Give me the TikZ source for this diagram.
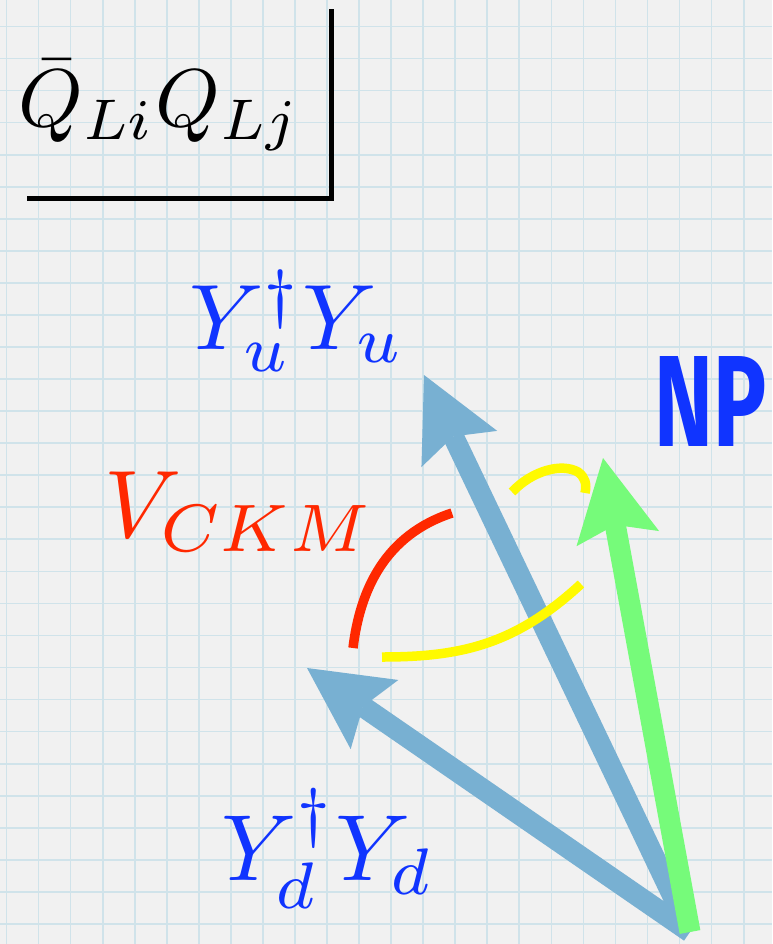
\documentclass[tikz,border=0pt]{standalone}
\usepackage{fontspec}
\usepackage{graphicx}
\newfontfamily\npfont{Fira Sans}
\usetikzlibrary{arrows.meta}
\definecolor{bg}{RGB}{241,241,241}
\definecolor{gridc}{RGB}{208,227,234}
\definecolor{vecblue}{RGB}{120,176,210}
\definecolor{npgreen}{RGB}{118,251,122}
\definecolor{ckmred}{RGB}{255,40,0}
\definecolor{yuk}{RGB}{255,250,0}
\definecolor{txtblue}{RGB}{16,52,255}
\begin{document}
\begin{tikzpicture}[x=1pt,y=-1pt,
  vec/.style={line width=21pt, line cap=butt,
    -{Stealth[length=82pt,width=84pt,inset=14pt,line width=0pt]}},
  arcline/.style={line width=9.5pt, line cap=butt},
  gridline/.style={gridc, line width=1.7pt},
  lbl/.style={inner sep=0pt, anchor=base west},
]
\useasboundingbox (0,0) rectangle (772,944);
\fill[bg] (0,0) rectangle (772,944);
\foreach \k in {0,...,23} \draw[gridline] ({6.5+32.05*\k},0) -- ({6.5+32.05*\k},944);
\foreach \k in {0,...,28} \draw[gridline] (0,{26.5+32.05*\k}) -- (772,{26.5+32.05*\k});

% frame around the operator
\coordinate (fa) at (27,198);
\coordinate (fb) at (331,198);
\coordinate (fc) at (331,9);
\draw[line width=5pt] (fa) -- (fb) -- (fc);
\node[lbl] (qq) at (18,127) {\scalebox{8.2}{$\bar Q_{Li}Q_{Lj}$}};

% labels
\node[lbl, text=txtblue] (yu) at (189,349) {\scalebox{9.3}{$Y_u^\dagger Y_u$}};
\node[lbl, text=ckmred] (vckm) at (104,537) {\scalebox{9.6}{$V_{CKM}$}};
\node[lbl, text=txtblue] (yd) at (221,880) {\scalebox{9.4}{$Y_d^\dagger Y_d$}};
\node[inner sep=0pt, anchor=south west, text=txtblue] (np) at (654,447)
  {\resizebox{112pt}{90pt}{\npfont\bfseries NP}};

% vectors
\coordinate (O) at (690,932);
\coordinate (Tu) at (424,375);
\coordinate (Td) at (307,668);
\coordinate (Tg) at (603,458);
\draw[vec, vecblue] (O) -- (Tu);
\draw[vec, vecblue] (O) -- (Td);
\draw[vec, npgreen] (O) -- (Tg);

% angle arcs
\coordinate (r1) at (353,648);
\coordinate (r2) at (452,513);
\draw[arcline, ckmred] (r1) .. controls (360,590) and (385,535) .. (r2);
\coordinate (y1) at (512,492);
\coordinate (ym) at (578,472);
\coordinate (y2) at (585,493);
\draw[arcline, yuk] (y1) .. controls (533,470) and (562,463) .. (ym)
  .. controls (585,477) and (587,484) .. (y2);
\coordinate (y3) at (382,657);
\coordinate (y4) at (581,584);
\draw[arcline, yuk] (y3) .. controls (460,657) and (515,645) .. (y4);
\end{tikzpicture}
\end{document}
